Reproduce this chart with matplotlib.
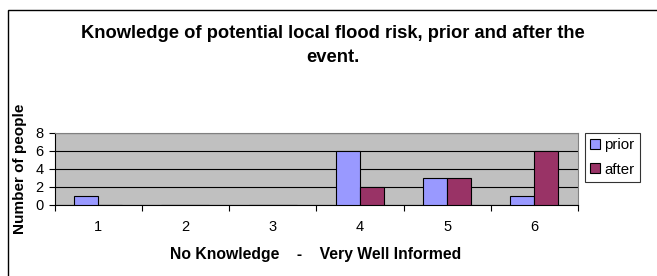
import matplotlib
matplotlib.use("Agg")
import matplotlib.pyplot as plt
from matplotlib.patches import Rectangle
import numpy as np

categories = ["1", "2", "3", "4", "5", "6"]
prior = [1, 0, 0, 6, 3, 1]
after = [0, 0, 0, 2, 3, 6]
series_names = ["prior", "after"]
yticks = [0, 2, 4, 6, 8]

W, H = 657, 276
DPI = 100
plt.rcParams['font.family'] = ['Liberation Sans', 'DejaVu Sans']

fig = plt.figure(figsize=(W / DPI, H / DPI), dpi=DPI)
fig.patch.set_facecolor('white')

# outer chart border
fig.patches.append(Rectangle((8 / W, -0.2), 2.0, (H - 10) / H + 0.2,
                             transform=fig.transFigure, fill=False,
                             edgecolor='black', linewidth=1.0))

left, right, top, bottom = 54.5, 578, 133, 204.5
ax = fig.add_axes([left / W, 1 - bottom / H, (right - left) / W, (bottom - top) / H])
ax.set_facecolor('#C0C0C0')

x = np.arange(1, len(categories) + 1)
w = 0.275
ax.bar(x - w / 2, prior, w, color='#9999FF', edgecolor='black', linewidth=0.8,
       label=series_names[0], zorder=3)
ax.bar(x + w / 2, after, w, color='#993366', edgecolor='black', linewidth=0.8,
       label=series_names[1], zorder=3)

ax.set_xlim(0.5, len(categories) + 0.5)
ax.set_ylim(0, 8)
ax.set_yticks(yticks)
ax.set_yticklabels([str(v) for v in yticks], fontsize=10.5)
ax.set_xticks(x)
ax.set_xticklabels(categories, fontsize=10.5)
ax.set_xticks(np.arange(0.5, len(categories) + 1, 1.0), minor=True)
ax.tick_params(axis='x', which='major', length=0, pad=11.5)
ax.tick_params(axis='x', which='minor', length=4, width=0.8, direction='out')
ax.tick_params(axis='y', which='major', length=4, width=0.8, direction='out', pad=4)

ax.grid(axis='y', color='black', linewidth=0.8, zorder=1)
ax.set_axisbelow(True)
for s in ['top', 'right']:
    ax.spines[s].set_color('#808080')
    ax.spines[s].set_linewidth(0.8)
for s in ['left', 'bottom']:
    ax.spines[s].set_color('black')
    ax.spines[s].set_linewidth(0.8)

fig.text(333 / W, 1 - 33 / H, "Knowledge of potential local flood risk, prior and after the",
         ha='center', va='center', fontsize=13.2, fontweight='bold')
fig.text(333 / W, 1 - 58 / H, "event.",
         ha='center', va='center', fontsize=13.2, fontweight='bold')
fig.text(20 / W, 1 - 169 / H, "Number of people", rotation=90,
         ha='center', va='center', fontsize=11, fontweight='bold')
fig.text(316 / W, 1 - 254 / H, "No Knowledge    -    Very Well Informed",
         ha='center', va='center', fontsize=11.3, fontweight='bold')

leg = fig.legend(loc='upper left', bbox_to_anchor=(585 / W, 1 - 133 / H),
                 frameon=True, fancybox=False, edgecolor='black', fontsize=10.8,
                 handlelength=0.65, handleheight=0.65, handletextpad=0.3,
                 borderpad=0.35, labelspacing=0.7, borderaxespad=0)
leg.get_frame().set_linewidth(0.8)

fig.savefig("out.png", dpi=DPI)
